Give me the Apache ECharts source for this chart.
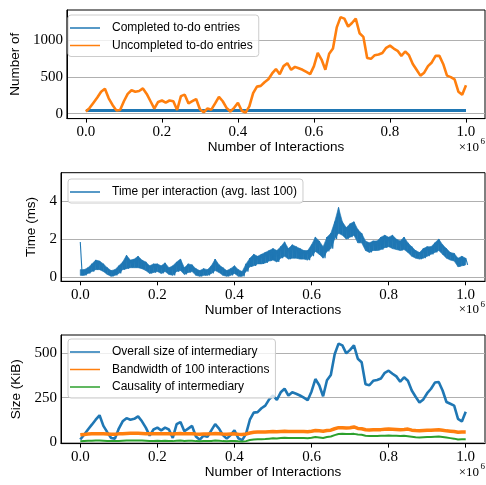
<!DOCTYPE html>
<html><head><meta charset="utf-8">
<script src="https://cdn.jsdelivr.net/npm/echarts@6/dist/echarts.min.js"></script>
<style>html,body{margin:0;padding:0;background:#fff}#c{width:486px;height:485px}</style>
</head><body><div id="c"></div>
<script>
// x in units of 1e6 interactions
const xTicks = [0, 0.2, 0.4, 0.6, 0.8, 1.0];
const xCoarse = [0, 0.1, 0.2, 0.3, 0.4, 0.5, 0.6, 0.7, 0.8, 0.9, 1.0];
const yTicksCount = [0, 500, 1000];
const yTicksTime = [0, 2, 4];
const yTicksSize = [0, 250, 500];

const completed = [42, 44, 44, 44, 44, 44, 44, 44, 44, 44, 44];
const uncompleted = [
  30, 80, 150, 220, 300, 340, 210, 120, 45, 50,
  170, 270, 320, 300, 310, 345, 270, 170, 70, 160,
  180, 150, 180, 170, 50, 240, 260, 140, 170, 200,
  60, 20, 70, 55, 140, 230, 170, 80, 30, 80,
  150, 40, 15, 100, 280, 370, 380, 430, 470, 550,
  610, 540, 650, 690, 600, 640, 620, 600, 570, 540,
  650, 830, 740, 600, 820, 890, 1180, 1320, 1300, 1190,
  1240, 1300, 1100, 1050, 760, 750, 800, 810, 830, 900,
  930, 890, 860, 790, 850, 800, 680, 600, 520, 560,
  650, 700, 790, 790, 680, 520, 500, 470, 300, 260,
  390
];
const timeHi = [
  1.85, 0.4, 0.5, 0.7, 0.9, 0.85, 0.7, 0.5, 0.35, 0.4,
  0.6, 0.8, 1.15, 0.9, 0.95, 1.1, 0.9, 0.8, 0.6, 0.7,
  0.7, 0.6, 0.75, 0.5, 0.6, 0.8, 0.95, 0.5, 0.7, 0.65,
  0.45, 0.35, 0.45, 0.4, 0.6, 0.95, 0.65, 0.5, 0.35, 0.45,
  0.6, 0.4, 0.3, 0.7, 1.0, 1.2, 1.1, 1.2, 1.3, 1.4,
  1.5, 1.4, 1.6, 1.85, 1.5, 1.7, 1.6, 1.5, 1.4, 1.4,
  1.7, 2.1, 1.9, 1.6, 2.1, 2.3, 2.9, 3.65, 2.9, 2.6,
  2.8, 2.9, 2.5, 2.3, 1.9, 1.8, 1.9, 1.9, 2.1, 2.2,
  2.1, 2.2, 2.0, 1.9, 2.1, 1.8, 1.6, 1.4, 1.3, 1.5,
  1.6, 1.6, 1.8, 2.0, 1.7, 1.5, 1.3, 1.25, 1.0, 1.1,
  1.0
];
const timeLo = [
  0.1, 0.1, 0.2, 0.3, 0.4, 0.4, 0.3, 0.15, 0.05, 0.1,
  0.2, 0.4, 0.45, 0.5, 0.5, 0.5, 0.45, 0.35, 0.2, 0.25,
  0.3, 0.2, 0.3, 0.15, 0.1, 0.3, 0.35, 0.15, 0.25, 0.3,
  0.1, 0.05, 0.1, 0.1, 0.2, 0.35, 0.25, 0.1, 0.05, 0.1,
  0.2, 0.05, 0.05, 0.3, 0.55, 0.6, 0.7, 0.7, 0.75, 0.85,
  0.9, 0.8, 1.0, 1.1, 0.95, 1.0, 1.0, 0.95, 0.95, 0.9,
  1.1, 1.35, 1.2, 1.0, 1.35, 1.5, 2.0, 2.3, 2.2, 2.0,
  2.1, 2.2, 1.8, 1.8, 1.4, 1.3, 1.4, 1.4, 1.45, 1.55,
  1.6, 1.5, 1.45, 1.4, 1.45, 1.3, 1.1, 1.0, 0.95, 1.0,
  1.1, 1.2, 1.3, 1.4, 1.2, 1.0, 0.9, 0.85, 0.55, 0.6,
  0.65
];
const sizeOverall = [
  13, 40, 70, 97, 125, 150, 90, 55, 22, 18,
  75, 116, 134, 125, 130, 144, 116, 80, 35, 70,
  80, 65, 80, 70, 22, 100, 112, 60, 75, 90,
  30, 12, 35, 28, 65, 100, 75, 38, 18, 38,
  65, 20, 10, 45, 125, 165, 168, 190, 205, 240,
  262, 237, 280, 300, 262, 280, 272, 262, 250, 235,
  285, 355, 320, 258, 348, 378, 495, 555, 545, 500,
  520, 545, 470, 450, 325, 320, 345, 350, 358, 390,
  402, 385, 370, 340, 365, 345, 290, 255, 222, 240,
  275, 300, 335, 338, 290, 225, 215, 205, 130, 115,
  170
];
const sizeBandwidth = [
  40, 42, 44, 45, 46, 46, 45, 44, 43, 43,
  45, 46, 47, 48, 48, 48, 47, 46, 45, 45,
  46, 45, 46, 45, 44, 46, 47, 45, 46, 46,
  44, 43, 44, 44, 45, 47, 46, 44, 43, 44,
  45, 43, 42, 44, 50, 54, 55, 55, 56, 57,
  58, 57, 59, 60, 58, 59, 59, 58, 58, 57,
  60, 64, 62, 60, 64, 66, 74, 80, 80, 78,
  80, 84, 76, 74, 68, 67, 68, 68, 69, 71,
  72, 71, 70, 69, 70, 72, 66, 64, 63, 64,
  65, 66, 67, 68, 65, 62, 60, 58, 54, 55,
  55
];
const sizeCausality = [
  3, 5, 6, 6, 7, 7, 6, 5, 4, 4,
  5, 6, 7, 8, 8, 8, 7, 6, 5, 5,
  6, 5, 6, 5, 4, 6, 7, 5, 6, 6,
  4, 3, 4, 4, 5, 7, 6, 4, 3, 4,
  5, 3, 2, 4, 10, 13, 14, 15, 16, 18,
  20, 19, 21, 23, 21, 22, 22, 21, 21, 20,
  23, 27, 25, 22, 27, 30, 38, 44, 45, 44,
  44, 45, 42, 40, 34, 33, 33, 33, 34, 35,
  36, 35, 34, 33, 34, 32, 29, 26, 25, 26,
  27, 28, 29, 30, 27, 24, 21, 18, 13, 14,
  15
];

const xs = uncompleted.map((_, i) => +(i * 0.01).toFixed(3));
const pairs = (arr, xv) => arr.map((v, i) => [xv[i], v]);
const timeData = [];
timeHi.forEach((h, i) => { timeData.push([xs[i], h]); timeData.push([xs[i] + 0.005, timeLo[i]]); });
// band segments between consecutive read samples (first spike kept only in the line)
const bandHi = timeHi.map((v, i) => i === 0 ? timeHi[1] : v);
const bandSegs = xs.slice(0, -1).map((x, i) => [x, timeLo[i], bandHi[i], xs[i + 1], timeLo[i + 1], bandHi[i + 1]]);

const BLUE = '#1f77b4', ORANGE = '#ff7f0e', GREEN = '#2ca02c';
const tops = [10, 172.7, 335];
const H = 108.6;
const yRanges = [[-67.5, 1417.5], [-0.21, 5.47], [-10, 604]];
const yTickSets = [yTicksCount, yTicksTime, yTicksSize];
const yNames = ['Number of', 'Time (ms)', 'Size (KiB)'];
const yNameGaps = [40, 18, 32];
const legendTops = [15, 179, 339];
const sans = 'Liberation Sans', serif = 'Liberation Serif';

const option = {
  animation: false,
  backgroundColor: '#fff',
  grid: tops.map(t => ({ left: 61, top: t, width: 424, height: H, show: true, borderColor: '#000', borderWidth: 1, backgroundColor: 'transparent' })),
  xAxis: tops.map((t, i) => ({
    type: 'value', gridIndex: i, min: -0.05, max: 1.05,
    name: 'Number of Interactions', nameLocation: 'middle', nameGap: 20,
    nameTextStyle: { fontFamily: sans, fontSize: 13.5, color: '#000' },
    axisLine: { show: true, onZero: false, lineStyle: { color: '#000', width: 1 } },
    axisTick: { show: true, length: 4, lineStyle: { color: '#000' }, customValues: xTicks },
    axisLabel: { customValues: xTicks, formatter: v => v.toFixed(1), fontFamily: serif, fontSize: 15, color: '#000', margin: 6 },
    splitLine: { show: false }
  })),
  yAxis: tops.map((t, i) => ({
    type: 'value', gridIndex: i, min: yRanges[i][0], max: yRanges[i][1],
    name: yNames[i], nameLocation: 'middle', nameGap: yNameGaps[i],
    nameTextStyle: { fontFamily: sans, fontSize: 13.5, color: '#000' },
    axisLine: { show: true, onZero: false, lineStyle: { color: '#000', width: 1 } },
    axisTick: { show: false, customValues: yTickSets[i] },
    axisLabel: { customValues: yTickSets[i], formatter: v => String(v), fontFamily: serif, fontSize: 15, color: '#000', margin: 4 },
    splitLine: { show: true, lineStyle: { color: '#b0b0b0', width: 1 } }
  })),
  legend: [
    { data: ['Completed to-do entries', 'Uncompleted to-do entries'] },
    { data: ['Time per interaction (avg. last 100)'] },
    { data: ['Overall size of intermediary', 'Bandwidth of 100 interactions', 'Causality of intermediary'] }
  ].map((l, i) => Object.assign(l, {
    left: 68, top: legendTops[i], orient: 'vertical',
    icon: 'rect', itemWidth: 30, itemHeight: 1.5, itemGap: 5.5,
    padding: [7, 6, 5, 2], borderColor: '#cccccc', borderWidth: 1, borderRadius: 3,
    backgroundColor: 'rgba(255,255,255,0.8)',
    textStyle: { fontFamily: sans, fontSize: 12, color: '#000', padding: [0, 0, 0, 7] }
  })),
  series: [
    { name: 'Completed to-do entries', type: 'line', xAxisIndex: 0, yAxisIndex: 0, data: pairs(completed, xCoarse), symbol: 'none', color: BLUE, lineStyle: { width: 3 } },
    { name: 'Uncompleted to-do entries', type: 'line', xAxisIndex: 0, yAxisIndex: 0, data: pairs(uncompleted, xs), symbol: 'none', color: ORANGE, lineStyle: { width: 2.6 } },
    {
      name: 'time-band', type: 'custom', xAxisIndex: 1, yAxisIndex: 1, data: bandSegs, silent: true,
      encode: { x: [0, 3], y: [1, 2, 4, 5] },
      renderItem: (params, api) => {
        const p1 = api.coord([api.value(0), api.value(2)]);
        const p2 = api.coord([api.value(3), api.value(5)]);
        const p3 = api.coord([api.value(3), api.value(4)]);
        const p4 = api.coord([api.value(0), api.value(1)]);
        return { type: 'polygon', shape: { points: [p1, p2, p3, p4] }, style: { fill: BLUE, stroke: BLUE, lineWidth: 0.6 } };
      }
    },
    { name: 'Time per interaction (avg. last 100)', type: 'line', xAxisIndex: 1, yAxisIndex: 1, data: timeData, symbol: 'none', color: BLUE, lineStyle: { width: 1.1 } },
    { name: 'Overall size of intermediary', type: 'line', xAxisIndex: 2, yAxisIndex: 2, data: pairs(sizeOverall, xs), symbol: 'none', color: BLUE, lineStyle: { width: 2.6 } },
    { name: 'Bandwidth of 100 interactions', type: 'line', xAxisIndex: 2, yAxisIndex: 2, data: pairs(sizeBandwidth, xs), symbol: 'none', color: ORANGE, lineStyle: { width: 3.5 } },
    { name: 'Causality of intermediary', type: 'line', xAxisIndex: 2, yAxisIndex: 2, data: pairs(sizeCausality, xs), symbol: 'none', color: GREEN, lineStyle: { width: 2 } }
  ],
  graphic: tops.flatMap(t => [
    { type: 'text', right: 7, top: t + H + 22, style: { text: '×10', font: '13px "Liberation Serif"', fill: '#000' } },
    { type: 'text', right: 1, top: t + H + 19, style: { text: '6', font: '9px "Liberation Serif"', fill: '#000' } }
  ])
};
const chart = echarts.init(document.getElementById('c'));
chart.setOption(option);
</script></body></html>
